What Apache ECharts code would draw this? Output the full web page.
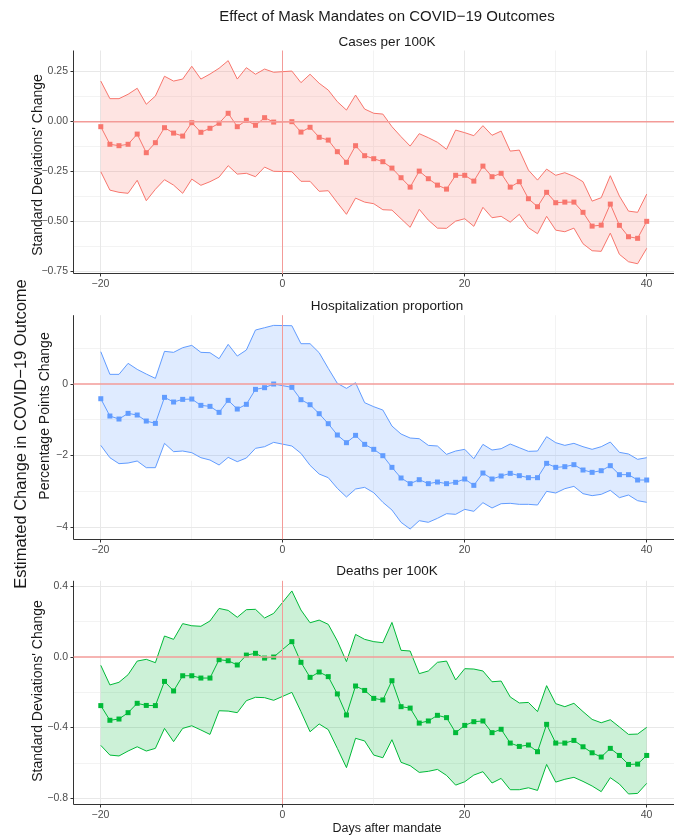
<!DOCTYPE html>
<html><head><meta charset="utf-8">
<script src="https://cdn.jsdelivr.net/npm/echarts@6/dist/echarts.min.js"></script>
<style>html,body{margin:0;padding:0;background:#fff}#c{width:674px;height:840px}</style>
</head><body><div id="c"></div>
<script>
// ---------- DATA ----------
const days = [-20,-19,-18,-17,-16,-15,-14,-13,-12,-11,-10,-9,-8,-7,-6,-5,-4,-3,-2,-1,
  1,2,3,4,5,6,7,8,9,10,11,12,13,14,15,16,17,18,19,20,21,22,23,24,25,26,27,28,29,30,31,32,33,34,35,36,37,38,39,40];

const casesEst = [-0.025,-0.113,-0.12,-0.113,-0.062,-0.155,-0.105,-0.03,-0.057,-0.072,-0.005,-0.053,-0.033,-0.008,0.042,-0.025,0.007,-0.018,0.02,-0.002,
  0,-0.052,-0.028,-0.078,-0.092,-0.15,-0.203,-0.12,-0.17,-0.185,-0.2,-0.232,-0.28,-0.327,-0.247,-0.285,-0.317,-0.337,-0.268,-0.268,-0.297,-0.222,-0.275,-0.258,-0.327,-0.3,-0.385,-0.425,-0.353,-0.405,-0.402,-0.402,-0.453,-0.522,-0.517,-0.412,-0.518,-0.575,-0.583,-0.498];
const casesHigh = [0.203,0.115,0.115,0.137,0.167,0.087,0.128,0.227,0.203,0.213,0.277,0.213,0.238,0.267,0.305,0.213,0.27,0.237,0.263,0.247,
  0.253,0.195,0.237,0.192,0.158,0.1,0.058,0.133,0.063,0.042,0.038,-0.025,-0.075,-0.122,-0.06,-0.08,-0.103,-0.138,-0.042,-0.055,-0.07,-0.02,-0.068,-0.047,-0.147,-0.142,-0.242,-0.292,-0.237,-0.268,-0.255,-0.273,-0.3,-0.397,-0.38,-0.27,-0.372,-0.447,-0.453,-0.362];
const casesLow = [-0.25,-0.342,-0.353,-0.358,-0.293,-0.395,-0.338,-0.29,-0.317,-0.358,-0.287,-0.318,-0.3,-0.277,-0.22,-0.262,-0.258,-0.275,-0.227,-0.248,
  -0.25,-0.298,-0.298,-0.348,-0.345,-0.405,-0.463,-0.382,-0.402,-0.41,-0.44,-0.442,-0.485,-0.528,-0.438,-0.492,-0.532,-0.533,-0.497,-0.485,-0.523,-0.428,-0.48,-0.473,-0.502,-0.463,-0.53,-0.56,-0.473,-0.542,-0.55,-0.532,-0.61,-0.645,-0.648,-0.557,-0.663,-0.7,-0.71,-0.633];

const hospEst = [-0.41,-0.893,-0.977,-0.819,-0.865,-1.033,-1.098,-0.372,-0.502,-0.428,-0.419,-0.595,-0.623,-0.791,-0.456,-0.698,-0.567,-0.149,-0.102,0,
  -0.093,-0.437,-0.577,-0.828,-1.107,-1.423,-1.637,-1.433,-1.684,-1.823,-2.0,-2.326,-2.623,-2.781,-2.67,-2.781,-2.735,-2.781,-2.744,-2.651,-2.828,-2.484,-2.651,-2.567,-2.493,-2.558,-2.614,-2.614,-2.214,-2.326,-2.307,-2.251,-2.4,-2.465,-2.419,-2.279,-2.53,-2.53,-2.679,-2.679];
const hospHigh = [0.902,0.27,0.27,0.577,0.409,0.279,0.158,0.912,0.884,1.014,1.079,0.884,0.874,0.707,1.107,0.781,0.949,1.507,1.572,1.637,
  1.628,1.126,1.126,0.874,0.437,0.019,-0.121,0.037,-0.521,-0.633,-0.726,-1.172,-1.395,-1.507,-1.526,-1.712,-1.73,-1.963,-1.87,-1.823,-2.084,-1.684,-1.842,-1.805,-1.674,-1.777,-1.879,-1.87,-1.47,-1.637,-1.712,-1.656,-1.749,-1.823,-1.749,-1.619,-1.907,-1.953,-2.102,-2.056];
const hospLow = [-1.712,-2.056,-2.223,-2.205,-2.149,-2.335,-2.335,-1.656,-1.888,-1.87,-1.916,-2.056,-2.121,-2.26,-2.047,-2.167,-2.065,-1.795,-1.749,-1.628,
  -1.73,-1.935,-2.27,-2.512,-2.614,-2.912,-3.153,-2.93,-2.884,-3.033,-3.302,-3.516,-3.86,-4.047,-3.814,-3.86,-3.749,-3.619,-3.637,-3.498,-3.553,-3.312,-3.46,-3.34,-3.33,-3.358,-3.358,-3.377,-2.995,-3.042,-2.921,-2.856,-3.06,-3.116,-3.079,-2.967,-3.172,-3.098,-3.256,-3.302];

const deathsEst = [-0.275,-0.358,-0.351,-0.315,-0.262,-0.274,-0.275,-0.138,-0.192,-0.106,-0.106,-0.119,-0.119,-0.015,-0.021,-0.045,0.011,0.021,-0.006,0,
  0.087,-0.03,-0.115,-0.085,-0.111,-0.209,-0.328,-0.164,-0.189,-0.234,-0.243,-0.134,-0.281,-0.289,-0.374,-0.362,-0.33,-0.343,-0.428,-0.387,-0.366,-0.362,-0.428,-0.409,-0.487,-0.506,-0.498,-0.536,-0.381,-0.487,-0.487,-0.472,-0.508,-0.542,-0.566,-0.517,-0.557,-0.608,-0.606,-0.557];
const deathsHigh = [-0.047,-0.158,-0.143,-0.1,-0.023,-0.013,-0.032,0.119,0.1,0.189,0.177,0.174,0.204,0.275,0.264,0.225,0.268,0.27,0.221,0.247,
  0.374,0.266,0.194,0.209,0.185,0.091,-0.026,0.128,0.1,0.087,0.081,0.196,0.038,0.034,-0.094,-0.079,-0.03,-0.023,-0.13,-0.066,-0.068,-0.079,-0.14,-0.136,-0.226,-0.26,-0.257,-0.309,-0.162,-0.264,-0.281,-0.262,-0.309,-0.353,-0.372,-0.355,-0.396,-0.438,-0.436,-0.398];
const deathsLow = [-0.5,-0.555,-0.56,-0.532,-0.508,-0.532,-0.517,-0.404,-0.479,-0.404,-0.389,-0.413,-0.438,-0.304,-0.306,-0.315,-0.247,-0.228,-0.23,-0.245,
  -0.2,-0.309,-0.423,-0.379,-0.411,-0.517,-0.626,-0.46,-0.475,-0.555,-0.57,-0.468,-0.596,-0.615,-0.653,-0.647,-0.636,-0.67,-0.725,-0.706,-0.668,-0.649,-0.713,-0.687,-0.751,-0.751,-0.74,-0.755,-0.608,-0.708,-0.692,-0.681,-0.704,-0.73,-0.762,-0.683,-0.719,-0.775,-0.772,-0.715];

const xTicks = [-20, 0, 20, 40];
const xMinor = [-10, 10, 30];
const casesTicks = [0.25, 0, -0.25, -0.5, -0.75];
const casesMinor = [0.125, -0.125, -0.375, -0.625];
const hospTicks = [0, -2, -4];
const hospMinor = [1, -1, -3];
const deathsTicks = [0.4, 0, -0.4, -0.8];
const deathsMinor = [0.2, -0.2, -0.6];
const refX = 0, refY = 0;

const mainTitle = 'Effect of Mask Mandates on COVID\u221219 Outcomes';
const panelTitles = ['Cases per 100K', 'Hospitalization proportion', 'Deaths per 100K'];
const yTitles = ["Standard Deviations' Change", 'Percentage Points Change', "Standard Deviations' Change"];
const leftTitle = 'Estimated Change in COVID\u221219 Outcome';
const xTitle = 'Days after mandate';

// ---------- STYLE / LAYOUT ----------
const FONT = '"Liberation Sans", Arial, Helvetica, sans-serif';
const colors = ['#F8766D', '#619CFF', '#00BA38'];
const fills = ['rgba(248,118,109,0.2)', 'rgba(97,156,255,0.2)', 'rgba(0,186,56,0.2)'];
const REF = '#F39B98';
const MAJOR = '#E8E8E8', MINOR = '#F3F3F3', AXIS = '#333333', LABEL = '#4d4d4d';
const panels = [
  {est: casesEst, lo: casesLow, hi: casesHigh, ticks: casesTicks, minor: casesMinor, dec: 2,
   top: 50.5, height: 223.4, titleY: 42, yTitleX: 38, yTitleY: 165},
  {est: hospEst, lo: hospLow, hi: hospHigh, ticks: hospTicks, minor: hospMinor, dec: 0,
   top: 315.2, height: 224.0, titleY: 306, yTitleX: 45.5, yTitleY: 416},
  {est: deathsEst, lo: deathsLow, hi: deathsHigh, ticks: deathsTicks, minor: deathsMinor, dec: 1,
   top: 580.8, height: 223.3, titleY: 571, yTitleX: 38, yTitleY: 691}
];
const GRID_LEFT = 73.5, GRID_WIDTH = 611;
const X_MIN = -23, X_MAX = 43;

function fmt(v, dec) {
  const s = Math.abs(v).toFixed(dec);
  return (v < -1e-9 ? '\u2212' : '') + s;
}
function crisp(v) { return Math.round(v - 0.5) + 0.5; }

const grid = [], xAxis = [], yAxis = [], series = [], graphic = [];

function txt(x, y, text, size, color, rot) {
  return {type: 'text', x: x, y: y, rotation: rot || 0, silent: true,
    style: {text: text, fontSize: size, fontFamily: FONT, fill: color,
      align: 'center', verticalAlign: 'middle', textAlign: 'center', textVerticalAlign: 'middle'}};
}
function label(x, y, text, h, v) {
  return {type: 'text', x: x, y: y, silent: true,
    style: {text: text, fontSize: 10.5, fontFamily: FONT, fill: LABEL,
      align: h, verticalAlign: v, textAlign: h, textVerticalAlign: v}};
}
function seg(x1, y1, x2, y2, stroke, w) {
  return {type: 'line', shape: {x1: x1, y1: y1, x2: x2, y2: y2}, style: {stroke: stroke, lineWidth: w || 1}};
}
function panelLines(api, cs, xs, ys, stroke) {
  const out = [];
  xs.forEach(v => { const x = crisp(api.coord([v, 0])[0]); out.push(seg(x, cs.y, x, cs.y + cs.height, stroke)); });
  ys.forEach(v => { const y = crisp(api.coord([0, v])[1]); out.push(seg(cs.x, y, cs.x + cs.width, y, stroke)); });
  return out;
}
function axisDecor(api, cs, xs, ys, dec) {
  const left = crisp(cs.x), bottom = crisp(cs.y + cs.height);
  const out = [seg(left, cs.y, left, bottom, AXIS), seg(left, bottom, cs.x + cs.width, bottom, AXIS)];
  xs.forEach(v => {
    const x = crisp(api.coord([v, 0])[0]);
    out.push(seg(x, bottom, x, bottom + 3, AXIS));
    out.push(label(x, bottom + 5.5, fmt(v, 0), 'center', 'top'));
  });
  ys.forEach(v => {
    const y = crisp(api.coord([0, v])[1]);
    out.push(seg(left - 3, y, left, y, AXIS));
    out.push(label(left - 5.5, y, fmt(v, dec), 'right', 'middle'));
  });
  return out;
}

graphic.push(txt(387, 17, mainTitle, 15, '#1a1a1a'));
graphic.push(txt(21, 434, leftTitle, 16.5, '#1a1a1a', Math.PI / 2));
graphic.push(txt(387, 829, xTitle, 12.5, '#1a1a1a'));

panels.forEach((p, i) => {
  const all = p.lo.concat(p.hi, p.est);
  const mn = Math.min(...all), mx = Math.max(...all);
  const ext = (mx - mn) * 0.05;
  grid.push({left: GRID_LEFT, width: GRID_WIDTH, top: p.top, height: p.height, containLabel: false, show: false});
  xAxis.push({gridIndex: i, type: 'value', min: X_MIN, max: X_MAX, show: false,
    axisLine: {show: false, onZero: false}, axisTick: {show: false}, axisLabel: {show: false}, splitLine: {show: false}});
  yAxis.push({gridIndex: i, type: 'value', min: mn - ext, max: mx + ext, show: false,
    axisLine: {show: false, onZero: false}, axisTick: {show: false}, axisLabel: {show: false}, splitLine: {show: false}});
  // grid lines (zero lines drawn separately in red)
  series.push({
    type: 'custom', xAxisIndex: i, yAxisIndex: i, silent: true, z: 0, clip: false,
    data: [[refX, refY]],
    renderItem: function (params, api) {
      const cs = params.coordSys;
      const xs = xTicks.filter(v => v !== refX), ys = p.ticks.filter(v => v !== refY);
      return {type: 'group', children:
        panelLines(api, cs, xMinor, p.minor, MINOR).concat(panelLines(api, cs, xs, ys, MAJOR))};
    }
  });
  // confidence band
  series.push({
    type: 'custom', xAxisIndex: i, yAxisIndex: i, silent: true, z: 1,
    data: days.map((d, k) => [d, p.lo[k], p.hi[k]]),
    encode: {x: 0, y: [1, 2]},
    renderItem: function (params, api) {
      if (params.dataIndex !== 0) return null;
      const pts = [];
      for (let k = 0; k < days.length; k++) pts.push(api.coord([days[k], p.hi[k]]));
      for (let k = days.length - 1; k >= 0; k--) pts.push(api.coord([days[k], p.lo[k]]));
      return {type: 'polygon', shape: {points: pts}, style: {fill: fills[i], stroke: 'none'}};
    }
  });
  series.push({
    type: 'line', xAxisIndex: i, yAxisIndex: i, data: days.map((d, k) => [d, p.lo[k]]),
    symbol: 'none', silent: true, z: 2, lineStyle: {color: colors[i], width: 1}
  });
  series.push({
    type: 'line', xAxisIndex: i, yAxisIndex: i, data: days.map((d, k) => [d, p.hi[k]]),
    symbol: 'none', silent: true, z: 2, lineStyle: {color: colors[i], width: 1}
  });
  // axis lines, ticks and tick labels
  series.push({
    type: 'custom', xAxisIndex: i, yAxisIndex: i, silent: true, z: 3, clip: false,
    data: [[refX, refY]],
    renderItem: function (params, api) {
      return {type: 'group', children: axisDecor(api, params.coordSys, xTicks, p.ticks, p.dec)};
    }
  });
  series.push({
    type: 'line', xAxisIndex: i, yAxisIndex: i, data: days.map((d, k) => [d, p.est[k]]),
    symbol: 'rect', symbolSize: 5, showSymbol: true, showAllSymbol: true, silent: true, z: 4,
    lineStyle: {color: colors[i], width: 1}, itemStyle: {color: colors[i]}
  });
  // red reference lines at x = 0 and y = 0, on their own top layer
  series.push({
    type: 'custom', xAxisIndex: i, yAxisIndex: i, silent: true, zlevel: 1, z: 10, clip: false,
    data: [[refX, refY]],
    renderItem: function (params, api) {
      const cs = params.coordSys;
      const x = crisp(api.coord([refX, 0])[0]);
      const y = api.coord([0, refY])[1];
      return {type: 'group', children: [
        seg(x, cs.y, x, cs.y + cs.height, REF, 1),
        seg(cs.x, y, cs.x + cs.width, y, REF, 1.6)
      ]};
    }
  });
  graphic.push(txt(387, p.titleY, panelTitles[i], 13.5, '#1a1a1a'));
  graphic.push(txt(p.yTitleX, p.yTitleY, yTitles[i], 14, '#1a1a1a', Math.PI / 2));
});

const chart = echarts.init(document.getElementById('c'), null, {renderer: 'canvas'});
chart.setOption({animation: false, backgroundColor: '#fff', grid, xAxis, yAxis, series, graphic});
</script>
</body></html>
